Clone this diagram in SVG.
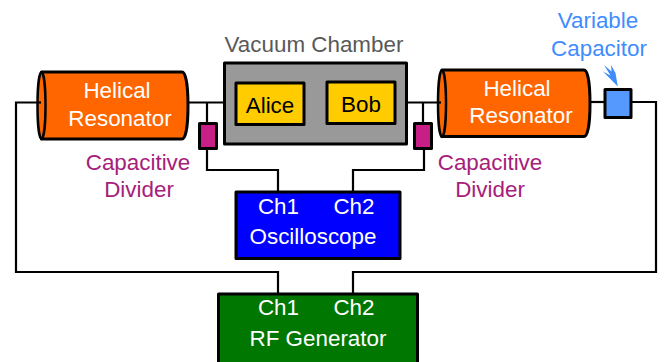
<svg xmlns="http://www.w3.org/2000/svg" width="665" height="362" viewBox="0 0 665 362">
<style>
text{font-family:"Liberation Sans",Arial,sans-serif;font-size:22.400px;text-anchor:middle}
.w{fill:#fff}.m{fill:#a6207a}.k{fill:#000}.b{fill:#3f8cff}
.box{stroke:#000;stroke-width:3;stroke-linejoin:round}
.wire{fill:none;stroke:#000;stroke-width:2.200}
</style>
<rect width="665" height="362" fill="#fff"/>
<g id="connectors" class="wire">
<path d="M41 102.500H16V272H278V294"/>
<path d="M188 102.500H236"/>
<path d="M207 102.500V124M207 148V170H278V192"/>
<path d="M395 102.500H441"/>
<path d="M423 102.500V124M424 148V170H353V192"/>
<path d="M590 102H605"/>
<path d="M631 102H656V272H353V294"/>
</g>
<g id="left-resonator">
<path class="box" fill="#ff6600" d="M41.500 72H182C186 72 188 87 188 105.500C188 124 186 139 182 139H41.500Z"/>
<ellipse cx="41.500" cy="105.500" rx="4" ry="33.500" fill="#ff6600" stroke="#000" stroke-width="2.500"/>
<path d="M37 102.500H41" stroke="#000" stroke-width="2.200"/>
<text class="w" x="117" y="98">Helical</text>
<text class="w" x="120" y="126">Resonator</text>
</g>
<g id="vacuum-chamber">
<rect class="box" x="224.500" y="63" width="182" height="81" fill="#999"/>
<text x="314" y="52" fill="#595959">Vacuum Chamber</text>
</g>
<g id="alice">
<rect class="box" x="236" y="83" width="68" height="41.500" fill="#ffcc00"/>
<text class="k" x="270" y="113">Alice</text>
</g>
<g id="bob">
<rect class="box" x="327" y="82" width="68" height="41.500" fill="#ffcc00"/>
<text class="k" x="361" y="112">Bob</text>
</g>
<g id="left-divider">
<rect class="box" x="199.500" y="123.500" width="17" height="25" fill="#c71f85"/>
<text class="m" x="138" y="170">Capacitive</text>
<text class="m" x="139" y="197">Divider</text>
</g>
<g id="right-resonator">
<path class="box" fill="#ff6600" d="M442 70H584C588 70 590 85 590 103.500C590 122 588 136.500 584 136.500H442Z"/>
<ellipse cx="442" cy="103.500" rx="4" ry="33.500" fill="#ff6600" stroke="#000" stroke-width="2.500"/>
<path d="M437 102.500H441" stroke="#000" stroke-width="2.200"/>
<text class="w" x="517" y="96">Helical</text>
<text class="w" x="521" y="123">Resonator</text>
</g>
<g id="right-divider">
<rect class="box" x="414.500" y="123.500" width="17" height="25" fill="#c71f85"/>
<text class="m" x="490" y="170">Capacitive</text>
<text class="m" x="490" y="197">Divider</text>
</g>
<g id="variable-capacitor">
<rect class="box" x="605" y="89.500" width="26" height="28" fill="#5599ff"/>
<text class="b" x="598" y="28">Variable</text>
<text class="b" x="599" y="56">Capacitor</text>
<path class="b" d="M617.800 86.500L603 71.500L610.500 75.500L604 65L611.500 71.500L611 65L615.500 73Z"/>
</g>
<g id="oscilloscope">
<rect class="box" x="236" y="192" width="164" height="66.500" fill="#0000ff"/>
<text class="w" x="278.500" y="214">Ch1</text>
<text class="w" x="354" y="214">Ch2</text>
<text class="w" x="313" y="244">Oscilloscope</text>
</g>
<g id="rf-generator">
<rect class="box" x="218.500" y="294" width="199" height="72" fill="#007700"/>
<text class="w" x="278.500" y="315">Ch1</text>
<text class="w" x="354" y="315">Ch2</text>
<text class="w" x="318" y="346">RF Generator</text>
</g>
</svg>
